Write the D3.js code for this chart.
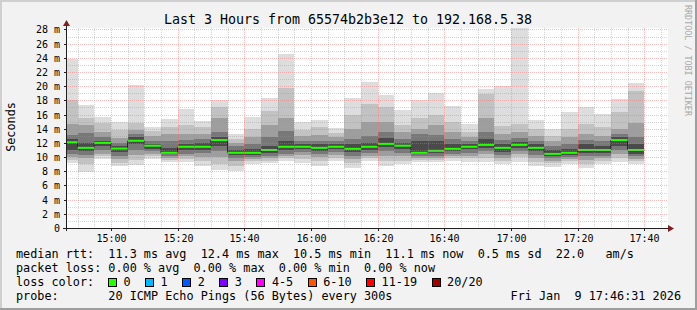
<!DOCTYPE html>
<html>
<head>
<meta charset="utf-8">
<script src="https://cdn.jsdelivr.net/npm/d3@7"></script>
<style>
  body { margin: 0; background: #f2f2f2; }
  svg { display: block; }
  text { font-family: "DejaVu Sans Mono", monospace; white-space: pre; }
</style>
</head>
<body>
<div id="chart"></div>
<script>
// ---- data (ms) ----
var startTime = '2026-01-09T14:46:31Z'
var endTime = '2026-01-09T17:46:31Z'
var firstBar = '2026-01-09T14:45:00Z'

// median rtt per 5 min step
var median = [12.1, 11.3, 12.0, 11.2, 12.3, 11.6, 10.6, 11.45, 11.45, 12.4, 10.6, 10.6,
  11.0, 11.45, 11.45, 11.3, 11.45, 11.16, 11.45, 11.86, 11.6, 10.6, 10.88, 11.16,
  11.45, 11.72, 11.3, 11.72, 11.3, 10.45, 10.6, 11.0, 11.0, 12.4, 11.0]

// sorted pings (20 per step), a few ranks of them
var ping20 = [23.8, 17.3, 15.6, 14.9, 20.1, 14.3, 15.4, 16.8, 15.1, 18.0, 13.3, 15.6,
  18.3, 24.6, 14.9, 15.2, 14.1, 18.4, 20.6, 18.8, 16.7, 18.0, 19.1, 17.2,
  14.6, 19.6, 20.0, 28.2, 15.2, 14.0, 16.3, 17.0, 16.1, 18.2, 20.5]
var ping18 = [18.0, 15.5, 14.8, 13.8, 14.8, 13.7, 14.3, 14.5, 14.3, 17.0, 12.6, 14.0,
  16.5, 19.8, 13.8, 14.2, 13.4, 16.0, 17.5, 17.0, 14.5, 15.5, 16.0, 15.0,
  13.6, 18.9, 14.4, 14.6, 14.0, 13.0, 14.0, 14.6, 14.3, 16.4, 19.3]
var ping16 = [14.6, 14.5, 13.6, 12.7, 13.8, 13.0, 13.2, 13.2, 13.3, 15.5, 12.0, 12.8,
  14.5, 15.5, 13.0, 13.1, 12.8, 14.0, 15.0, 15.0, 13.5, 14.0, 14.5, 13.6,
  12.8, 15.5, 13.2, 13.5, 13.0, 12.2, 12.8, 13.2, 13.0, 14.0, 14.8]
var ping14 = [13.1, 13.4, 12.8, 12.0, 13.2, 12.3, 12.2, 12.4, 12.5, 13.5, 11.5, 11.8,
  12.8, 13.7, 12.3, 12.3, 12.2, 12.6, 13.0, 13.5, 12.6, 13.2, 13.1, 12.6,
  12.2, 13.5, 12.4, 12.7, 12.3, 11.5, 11.9, 12.4, 12.2, 13.2, 12.8]
var ping12 = [12.6, 12.0, 12.3, 11.5, 12.8, 11.9, 11.3, 11.9, 12.0, 12.9, 11.0, 11.1,
  11.6, 12.3, 11.8, 11.8, 11.8, 11.9, 12.0, 12.7, 12.0, 12.3, 12.2, 11.8,
  11.8, 12.5, 11.8, 12.1, 11.8, 11.0, 11.2, 11.8, 11.6, 12.8, 11.8]
var ping9 = [11.0, 10.8, 11.5, 10.7, 11.8, 11.2, 10.4, 11.0, 11.0, 11.6, 10.3, 10.3,
  10.6, 11.0, 11.1, 10.9, 11.1, 10.7, 11.0, 11.4, 11.1, 10.4, 10.6, 10.8,
  11.1, 11.3, 10.7, 11.3, 10.8, 10.2, 10.3, 10.6, 10.6, 11.6, 10.5]
var ping7 = [10.5, 10.3, 11.0, 10.2, 11.0, 10.9, 10.1, 10.5, 10.6, 10.8, 9.9, 10.0,
  10.2, 10.5, 10.7, 10.5, 10.7, 10.2, 10.6, 10.8, 10.6, 10.1, 10.2, 10.4,
  10.6, 10.8, 10.3, 10.9, 10.3, 9.9, 10.0, 10.1, 10.2, 11.0, 10.1]
var ping5 = [10.0, 9.8, 10.5, 9.7, 10.3, 10.5, 9.9, 10.1, 10.0, 10.0, 9.4, 9.7,
  9.9, 10.1, 10.3, 10.0, 10.3, 9.7, 10.2, 10.1, 10.1, 9.9, 9.9, 10.1,
  10.2, 10.4, 9.9, 10.5, 9.8, 9.5, 9.7, 9.6, 9.8, 10.4, 9.7]
var ping3 = [9.6, 9.0, 10.1, 9.2, 9.6, 10.1, 9.6, 9.7, 9.4, 9.0, 8.8, 9.4,
  9.5, 9.8, 9.7, 9.4, 9.9, 9.1, 9.8, 9.4, 9.5, 9.6, 9.6, 9.8,
  9.8, 9.8, 9.4, 10.0, 9.3, 9.1, 9.4, 9.0, 9.4, 9.8, 9.4]
var ping1 = [9.2, 7.9, 9.7, 8.7, 8.9, 9.7, 9.3, 9.3, 8.7, 8.2, 8.0, 9.0,
  9.1, 9.4, 9.1, 8.7, 9.4, 8.5, 9.4, 8.7, 9.0, 9.3, 9.3, 9.4,
  9.3, 9.3, 9.0, 9.3, 8.7, 8.6, 9.0, 8.4, 9.0, 9.3, 9.0]

var yTicks = [0, 2, 4, 6, 8, 10, 12, 14, 16, 18, 20, 22, 24, 26, 28]
var lossLabels = ['0', '1', '2', '3', '4-5', '6-10', '11-19', '20/20']
var lossColors = ['#26ff00', '#00b8ff', '#0059ff', '#7e00ff', '#ff00ff', '#ff5500', '#ff0000', '#a10000']

var titleText = 'Last 3 Hours from 65574b2b3e12 to 192.168.5.38'
var legendRtt = 'median rtt:  11.3 ms avg  12.4 ms max  10.5 ms min  11.1 ms now  0.5 ms sd  22.0   am/s'
var legendLoss = 'packet loss: 0.00 % avg  0.00 % max  0.00 % min  0.00 % now'
var legendProbe = 'probe:       20 ICMP Echo Pings (56 Bytes) every 300s'
var stampText = 'Fri Jan  9 17:46:31 2026'

// ---- layout ----
var svgWidth = 697
var svgHeight = 310
var plot = { left: 66, right: 666, top: 28, bottom: 228 }
var minorGrid = 'rgba(150,150,150,0.4)'
var majorGrid = 'rgba(245,110,110,0.45)'

var svg = d3.select('#chart')
  .append('svg')
  .attr('width', svgWidth)
  .attr('height', svgHeight)

// background + 3d frame
svg.append('rect').attr('width', svgWidth).attr('height', svgHeight).attr('fill', '#f2f2f2')
svg.append('path').attr('d', `M1,${svgHeight}V1H${svgWidth}`).attr('stroke', '#cfcfcf').attr('stroke-width', 2).attr('fill', 'none')
svg.append('path').attr('d', `M0,${svgHeight - 1}H${svgWidth - 1}V0`).attr('stroke', '#9e9e9e').attr('stroke-width', 2).attr('fill', 'none')

// canvas
svg.append('rect')
  .attr('x', plot.left).attr('y', plot.top)
  .attr('width', plot.right - plot.left + 2).attr('height', plot.bottom - plot.top)
  .attr('fill', '#ffffff')

var x = d3.scaleUtc()
  .domain([new Date(startTime), new Date(endTime)])
  .range([plot.left, plot.right])
var y = d3.scaleLinear()
  .domain([0, 28.2])
  .range([plot.bottom, plot.top])

svg.append('clipPath').attr('id', 'plotclip')
  .append('rect')
  .attr('x', plot.left).attr('y', plot.top)
  .attr('width', plot.right - plot.left + 1).attr('height', plot.bottom - plot.top)

var barTimes = d3.utcMinute.every(5).range(new Date(firstBar), new Date(endTime)).slice(0, median.length)
var bars = barTimes.map(function (t, i) {
  return { t0: t, t1: d3.utcMinute.offset(t, 5), i: i }
})

var chartGroup = svg.append('g').attr('clip-path', 'url(#plotclip)')

// smoke: outer pairs first, darker inner pairs on top
var smoke = [
  { lo: ping1, hi: ping20, color: '#dddddd' },
  { lo: ping3, hi: ping18, color: '#c2c2c2' },
  { lo: ping5, hi: ping16, color: '#9e9e9e' },
  { lo: ping7, hi: ping14, color: '#787878' },
  { lo: ping9, hi: ping12, color: '#4a4a4a' }
]
smoke.forEach(function (band) {
  chartGroup.append('g')
    .selectAll('rect')
    .data(bars)
    .enter()
    .append('rect')
    .attr('x', d => x(d.t0))
    .attr('width', d => x(d.t1) - x(d.t0))
    .attr('y', d => y(band.hi[d.i]))
    .attr('height', d => y(band.lo[d.i]) - y(band.hi[d.i]))
    .attr('fill', band.color)
    .attr('shape-rendering', 'crispEdges')
})

// grid
var gridGroup = svg.append('g').attr('shape-rendering', 'crispEdges')
d3.range(1, 29).forEach(function (v) {
  var yy = Math.round(y(v)) + 0.5
  gridGroup.append('line')
    .attr('x1', plot.left).attr('x2', plot.right + 1)
    .attr('y1', yy).attr('y2', yy)
    .attr('stroke', v % 2 === 0 ? majorGrid : minorGrid)
    .attr('stroke-dasharray', '1,1')
})
var gridTimes = d3.utcMinute.every(5).range(new Date(startTime), new Date(endTime))
gridTimes.forEach(function (t) {
  var xx = Math.round(x(t)) + 0.5
  gridGroup.append('line')
    .attr('x1', xx).attr('x2', xx)
    .attr('y1', plot.top).attr('y2', plot.bottom)
    .attr('stroke', t.getUTCMinutes() % 20 === 0 ? majorGrid : minorGrid)
    .attr('stroke-dasharray', '1,1')
})

// median: dark step line, then loss coloured band
var stepPts = bars.map(d => [x(d.t0), y(median[d.i])])
stepPts.push([x(bars[bars.length - 1].t1), y(median[median.length - 1])])
chartGroup.append('path')
  .attr('d', d3.line().curve(d3.curveStepAfter)(stepPts))
  .attr('fill', 'none')
  .attr('stroke', '#202020')
  .attr('stroke-width', 1)

chartGroup.append('g')
  .selectAll('rect')
  .data(bars)
  .enter()
  .append('rect')
  .attr('x', d => x(d.t0))
  .attr('width', d => x(d.t1) - x(d.t0))
  .attr('y', d => y(median[d.i]) - 1)
  .attr('height', 2)
  .attr('fill', lossColors[0])

// axes
var axisGroup = svg.append('g').attr('shape-rendering', 'crispEdges')
axisGroup.append('line')
  .attr('x1', plot.left - 3).attr('x2', plot.right + 4)
  .attr('y1', plot.bottom + 0.5).attr('y2', plot.bottom + 0.5)
  .attr('stroke', '#1f1f1f')
axisGroup.append('line')
  .attr('x1', plot.left + 0.5).attr('x2', plot.left + 0.5)
  .attr('y1', plot.bottom + 3).attr('y2', plot.top - 5)
  .attr('stroke', '#1f1f1f')
svg.append('path')
  .attr('d', `M${plot.right + 2},${plot.bottom - 3}L${plot.right + 8},${plot.bottom + 0.5}L${plot.right + 2},${plot.bottom + 4}Z`)
  .attr('fill', '#7f1f1f')
svg.append('path')
  .attr('d', `M${plot.left - 3},${plot.top - 2}L${plot.left + 0.5},${plot.top - 8}L${plot.left + 4},${plot.top - 2}Z`)
  .attr('fill', '#7f1f1f')

// y tick marks and labels
yTicks.forEach(function (v) {
  var yy = Math.round(y(v)) + 0.5
  axisGroup.append('line')
    .attr('x1', plot.left - 2).attr('x2', plot.left)
    .attr('y1', yy).attr('y2', yy)
    .attr('stroke', '#1f1f1f')
  svg.append('text')
    .attr('x', 60)
    .attr('y', yy + 3.5)
    .attr('text-anchor', 'end')
    .attr('font-size', '10px')
    .attr('fill', '#000')
    .text(v === 0 ? '0' : v + ' m')
})

// x tick labels
var fmt = d3.utcFormat('%H:%M')
gridTimes.filter(t => t.getUTCMinutes() % 20 === 0).forEach(function (t) {
  var xx = Math.round(x(t)) + 0.5
  axisGroup.append('line')
    .attr('x1', xx).attr('x2', xx)
    .attr('y1', plot.bottom).attr('y2', plot.bottom + 3)
    .attr('stroke', '#1f1f1f')
  svg.append('text')
    .attr('x', xx)
    .attr('y', 241.5)
    .attr('text-anchor', 'middle')
    .attr('font-size', '10px')
    .text(fmt(t))
})

// title and axis label
svg.append('text')
  .attr('x', 348)
  .attr('y', 24)
  .attr('text-anchor', 'middle')
  .attr('font-size', '13.3px')
  .text(titleText)

svg.append('text')
  .attr('transform', 'translate(15,127) rotate(-90)')
  .attr('text-anchor', 'middle')
  .attr('font-size', '11.8px')
  .text('Seconds')

svg.append('text')
  .attr('transform', 'translate(684.5,5) rotate(90)')
  .attr('font-size', '8.4px')
  .attr('fill', '#a8a8a8')
  .text('RRDTOOL / TOBI OETIKER')

// legend
var charW = 7.1
var legend = svg.append('g').attr('font-size', '11.8px')
legend.append('text').attr('x', 16).attr('y', 257.5).text(legendRtt)
legend.append('text').attr('x', 16).attr('y', 271.5).text(legendLoss)
legend.append('text').attr('x', 16).attr('y', 285.5).text('loss color:')
var sx = 108.5
lossLabels.forEach(function (lab, i) {
  legend.append('rect')
    .attr('x', sx).attr('y', 278.5)
    .attr('width', 8).attr('height', 8)
    .attr('fill', lossColors[i])
    .attr('stroke', '#000')
    .attr('shape-rendering', 'crispEdges')
  legend.append('text').attr('x', sx + 15).attr('y', 285.5).text(lab)
  sx = sx + 15 + lab.length * charW + 15
})
legend.append('text').attr('x', 16).attr('y', 299.5).text(legendProbe)
legend.append('text').attr('x', 681).attr('y', 299.5).attr('text-anchor', 'end').text(stampText)
</script>
</body>
</html>
